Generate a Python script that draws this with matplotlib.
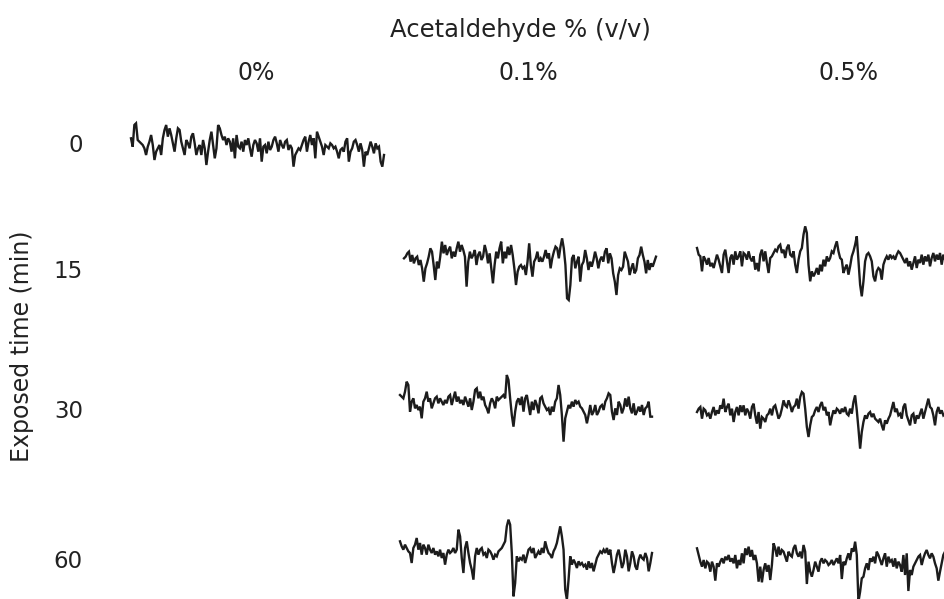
import numpy as np
import matplotlib; matplotlib.use("Agg")
import matplotlib.pyplot as plt

plt.rcParams.update({"font.family": ["DejaVu Sans"], "text.color": "#222222"})
INK = "#1c1c1c"

# traces (sample heights, larger = lower on the page)
t0_c0 = [70,95,30,25,75,80,85,90,100,120,95,80,60,90,135,110,100,90,120,70,45,30,65,40,60,85,110,70,40,45,
         80,100,120,75,85,100,65,55,85,120,100,90,120,75,100,150,110,75,50,90,130,100,30,40,60,75,65,90,70,80,
         110,70,130,60,95,100,80,110,75,90,70,100,125,90,75,85,110,70,140,95,90,115,80,105,95,75,65,85,110,75,
         90,100,80,75,105,90,100,155,120,110,100,105,90,75,65,110,80,60,90,70,130,50,65,80,95,120,90,95,100,85,
         90,100,95,110,130,105,100,110,80,70,140,110,100,80,75,90,110,85,105,155,110,120,100,80,95,115,85,100,95,140,
         155,120]
t15_c1 = [100,95,85,80,110,90,115,100,95,120,105,130,170,130,115,95,70,80,120,165,110,130,95,50,85,60,90,75,65,100,
          80,95,70,50,80,60,75,95,185,110,80,100,90,75,120,90,80,105,95,60,80,115,85,130,175,120,80,100,70,50,
          115,80,100,65,90,60,90,130,180,140,125,120,130,125,150,110,55,120,155,110,100,80,110,100,110,95,75,100,85,130,
          100,80,65,70,100,65,40,70,120,220,225,180,100,90,130,110,95,170,120,110,75,100,135,110,125,105,80,100,130,105,
          95,110,80,70,115,85,100,145,170,210,150,130,135,125,80,95,110,150,130,115,145,135,100,90,65,90,110,145,105,135,
          115,125,110,95]
t15_c2 = [90,110,115,160,115,125,140,120,145,135,150,130,110,125,145,165,110,95,130,165,120,110,140,100,125,115,100,145,105,110,
          125,100,120,130,115,155,135,160,110,95,130,100,135,165,120,115,105,95,100,85,80,105,95,120,90,80,110,115,100,140,
          165,125,100,90,50,25,45,140,190,160,175,165,150,170,140,160,125,145,115,130,120,100,105,85,70,100,120,125,165,150,
          140,170,145,115,100,80,55,130,200,235,190,130,110,105,115,130,175,190,160,150,155,185,140,125,115,125,110,120,115,125,
          110,100,105,115,125,135,120,145,130,155,135,115,150,125,135,110,140,115,130,110,145,120,105,130,110,125,105,140,110,125]
t30_c1 = [90,95,100,80,50,60,140,110,100,130,120,135,125,160,110,100,80,110,100,130,115,100,95,115,100,110,120,105,115,95,
          90,120,100,80,110,95,115,105,120,95,110,125,100,135,110,75,70,100,80,105,95,120,130,145,115,100,110,130,95,105,
          100,95,90,100,30,45,100,150,185,140,110,100,120,95,140,100,90,120,150,110,135,105,120,145,100,95,115,125,135,130,
          150,125,140,110,100,60,90,150,230,160,140,120,130,110,125,105,115,110,125,130,140,150,175,150,120,150,140,120,150,140,
          125,120,135,110,100,85,90,140,165,130,150,110,120,145,130,100,125,95,130,145,115,150,140,125,140,120,150,130,125,110,
          155,155]
t30_c2 = [90,80,75,110,80,85,100,95,110,90,75,100,85,95,70,80,50,90,75,65,100,80,120,90,75,100,70,90,70,100,
          80,90,110,75,65,100,125,90,140,105,110,120,100,95,80,100,75,70,90,110,100,80,55,70,75,55,70,90,75,70,
          50,80,45,30,35,80,135,165,130,105,100,85,75,90,70,60,85,75,100,90,130,105,85,95,80,85,95,80,90,75,
          95,100,80,95,60,40,85,140,200,150,120,100,110,95,90,105,95,110,115,120,110,130,145,115,125,110,100,80,60,90,
          80,100,95,110,75,65,100,115,130,100,95,125,100,110,95,80,110,90,70,50,75,80,100,130,90,75,95,85,100,95]
t60_c1 = [175,190,200,185,195,205,210,240,195,185,165,200,180,215,185,195,215,185,200,210,195,215,205,220,200,225,210,245,215,200,
          210,205,195,210,200,140,160,225,270,195,175,210,240,260,290,220,195,215,200,195,215,210,225,200,205,215,230,215,220,205,
          200,195,185,175,130,110,125,210,340,300,220,235,225,230,215,240,220,200,195,210,195,225,215,205,215,195,210,175,195,210,
          215,225,205,195,180,155,130,160,200,320,350,290,220,245,230,240,255,235,245,240,250,245,260,235,255,240,265,245,225,215,
          205,210,200,210,195,215,200,240,270,245,215,200,225,255,240,200,220,265,240,205,220,250,260,230,215,225,230,210,225,265,
          240,210]
t60_c2 = [130,150,170,185,165,190,170,175,200,170,185,227,175,185,170,160,175,155,165,150,170,160,175,150,190,165,180,145,175,130,
          150,125,155,135,165,150,175,230,185,232,195,175,200,180,225,180,115,130,155,125,150,135,140,155,170,140,150,155,130,120,
          145,155,140,160,120,140,237,170,200,215,195,170,185,200,170,160,175,165,170,180,175,165,180,170,160,175,150,222,170,180,
          160,145,165,130,140,110,150,290,260,220,215,190,175,195,160,170,155,175,140,150,165,180,160,145,185,155,170,165,185,160,
          190,170,180,200,150,210,145,258,195,210,185,175,165,155,150,180,160,145,135,150,160,145,155,175,190,227,200,175,150,140]

concs = ["0%", "0.1%", "0.5%"]
times = ["0", "15", "30", "60"]
traces = [t0_c0, t15_c1, t15_c2, t30_c1, t30_c2, t60_c1, t60_c2]

# layout in pixels: left, right, top, height of each reading window (readings are 3x that window)
boxes = [(131, 384, 115, 60), (404, 656, 225, 80), (697, 945, 218, 85),
         (400, 652, 365, 82), (697, 945, 382, 75), (400, 652, 483, 94), (697, 945, 505, 72)]

W, H = 945, 599
fig = plt.figure(figsize=(W / 100, H / 100), dpi=100)

for vals, (x0, x1, top, h) in zip(traces, boxes):
    ax = fig.add_axes([x0 / W, 1 - (top + h) / H, (x1 - x0) / W, h / H])
    ax.plot(np.arange(len(vals)), vals, color=INK, lw=1.7, clip_on=False, solid_joinstyle="miter")
    ax.set_xlim(0, len(vals) - 1)
    ax.set_ylim(h * 3, 0)
    ax.axis("off")

def px(x, y):
    return x / W, 1 - y / H

fig.text(*px(520, 30), "Acetaldehyde % (v/v)", ha="center", va="center", fontsize=17.5)
for lab, x in zip(concs, [256, 528, 849]):
    fig.text(*px(x, 73), lab, ha="center", va="center", fontsize=17)
for lab, y in zip(times, [146, 272, 412, 561]):
    fig.text(*px(83, y), lab, ha="right", va="center", fontsize=16.5)
fig.text(*px(22, 346), "Exposed time (min)", rotation=90, ha="center", va="center", fontsize=17)

fig.savefig("out.png", dpi=100)
